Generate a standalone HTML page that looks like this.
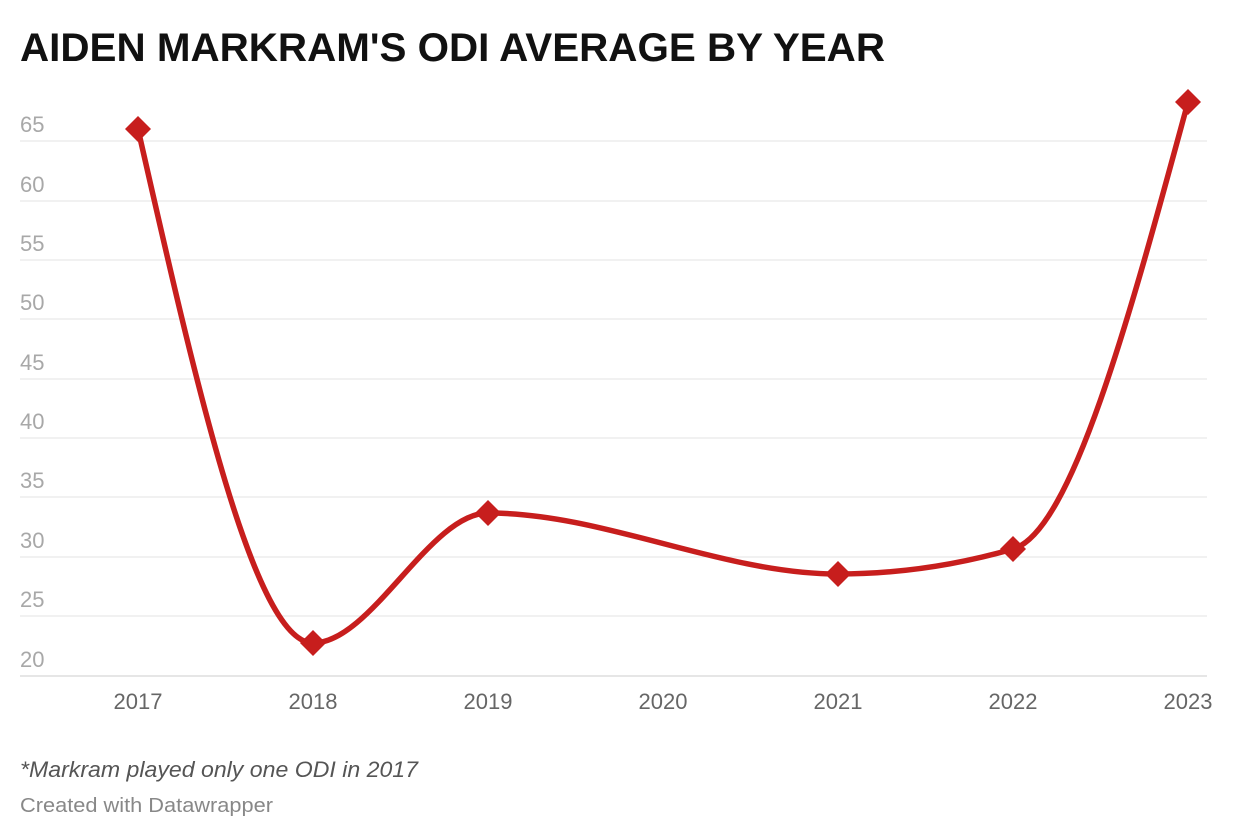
<!DOCTYPE html>
<html><head><meta charset="utf-8"><style>
body{margin:0;background:#fff;width:1240px;height:840px;overflow:hidden;font-family:"Liberation Sans",sans-serif}
</style></head><body>
<svg width="1240" height="840" xmlns="http://www.w3.org/2000/svg" style="position:absolute;left:0;top:0">
<text x="20" y="61" font-family="Liberation Sans, sans-serif" font-weight="bold" font-size="40" fill="#111" textLength="865" lengthAdjust="spacingAndGlyphs">AIDEN MARKRAM'S ODI AVERAGE BY YEAR</text>
<g stroke="#e3e3e3" stroke-width="1">
<line x1="20" x2="1207" y1="141" y2="141"/><line x1="20" x2="1207" y1="201" y2="201"/>
<line x1="20" x2="1207" y1="260" y2="260"/><line x1="20" x2="1207" y1="319" y2="319"/>
<line x1="20" x2="1207" y1="379" y2="379"/><line x1="20" x2="1207" y1="438" y2="438"/>
<line x1="20" x2="1207" y1="497" y2="497"/><line x1="20" x2="1207" y1="557" y2="557"/>
<line x1="20" x2="1207" y1="616" y2="616"/>
</g>
<line x1="20" x2="1207" y1="676" y2="676" stroke="#ccc" stroke-width="1"/>
<g font-size="22" fill="#a8a8a8" font-family="Liberation Sans, sans-serif">
<text x="20" y="132">65</text><text x="20" y="192">60</text><text x="20" y="251">55</text>
<text x="20" y="310">50</text><text x="20" y="370">45</text><text x="20" y="429">40</text>
<text x="20" y="488">35</text><text x="20" y="548">30</text><text x="20" y="607">25</text>
<text x="20" y="667">20</text>
</g>
<g font-size="22" fill="#666" text-anchor="middle" font-family="Liberation Sans, sans-serif">
<text x="138" y="709">2017</text><text x="313" y="709">2018</text><text x="488" y="709">2019</text>
<text x="663" y="709">2020</text><text x="838" y="709">2021</text><text x="1013" y="709">2022</text>
<text x="1188" y="709">2023</text>
</g>
<path d="M138,129 C196.33,386 254.67,643 313,643 C371.33,643 429.67,513 488,513 C604.67,513 721.33,574 838,574 C896.33,574 954.67,565.7 1013,549 C1071.33,532.3 1129.67,317.1 1188,102" fill="none" stroke="#c71e1d" stroke-width="5.5"/>
<g fill="#c71e1d">
<polygon points="138,116 151,129 138,142 125,129"/>
<polygon points="313,630 326,643 313,656 300,643"/>
<polygon points="488,500 501,513 488,526 475,513"/>
<polygon points="838,561 851,574 838,587 825,574"/>
<polygon points="1013,536 1026,549 1013,562 1000,549"/>
<polygon points="1188,89 1201,102 1188,115 1175,102"/>
</g>
<text x="20" y="777" font-size="22" font-style="italic" fill="#555" font-family="Liberation Sans, sans-serif" textLength="398" lengthAdjust="spacingAndGlyphs">*Markram played only one ODI in 2017</text>
<text x="20" y="812" font-size="20" fill="#888" font-family="Liberation Sans, sans-serif" textLength="253" lengthAdjust="spacingAndGlyphs">Created with Datawrapper</text>
</svg>
</body></html>
